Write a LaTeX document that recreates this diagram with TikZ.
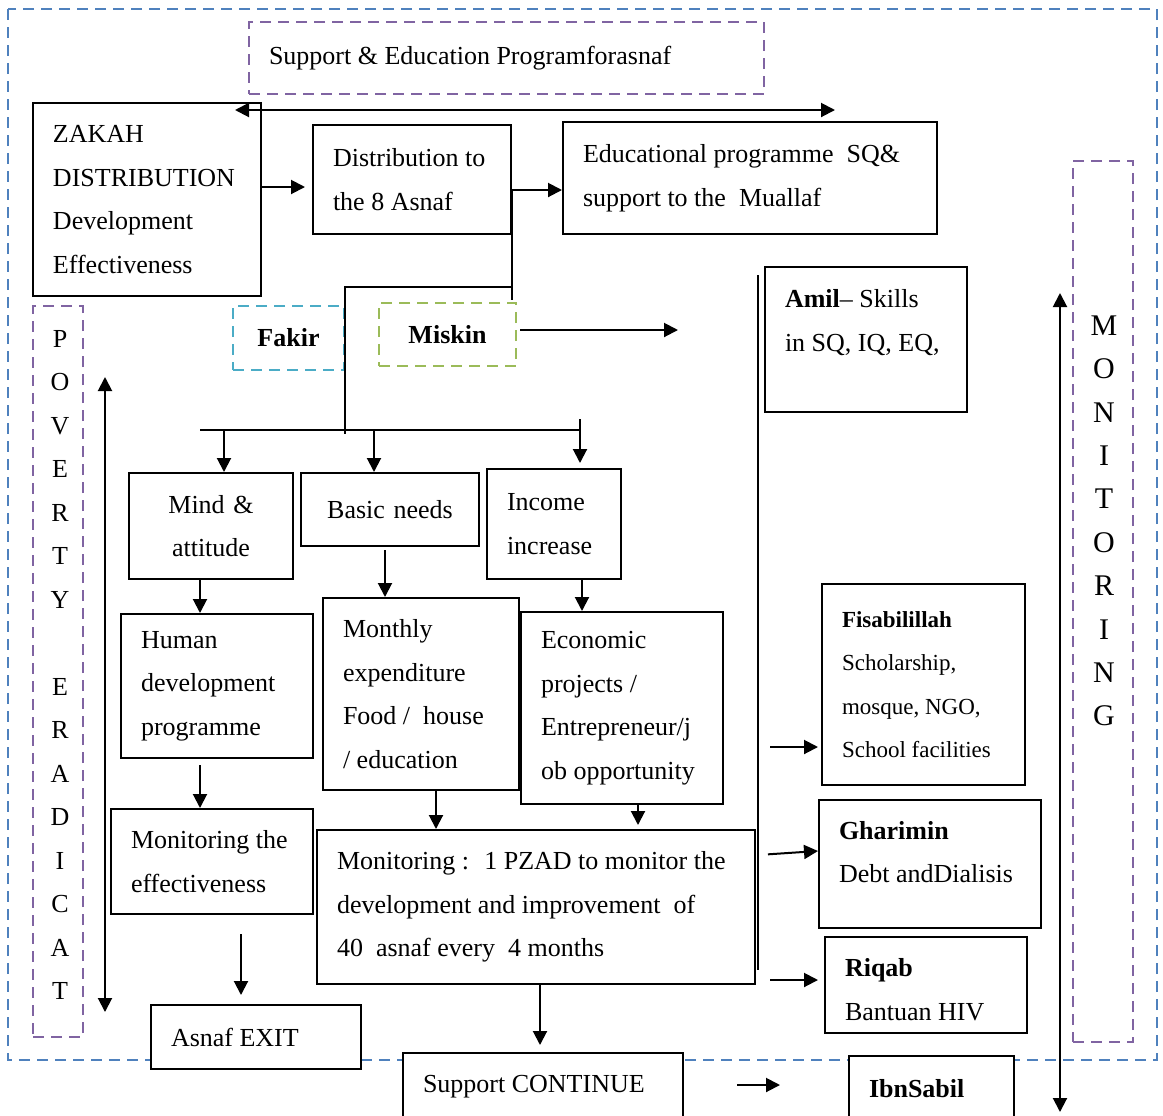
\documentclass[tikz,border=0pt]{standalone}
\usepackage{fontspec}
\setmainfont{Liberation Serif}
\usetikzlibrary{arrows.meta}
\tikzset{>={Triangle[length=7pt,width=7pt]}}
\definecolor{frameblue}{RGB}{79,129,189}
\definecolor{dashpurple}{RGB}{128,100,162}
\definecolor{dashcyan}{RGB}{75,172,198}
\definecolor{dashgreen}{RGB}{155,187,89}
\newcommand\bodysize{\fontsize{13}{21.75}\selectfont}

\begin{document}
\begin{tikzpicture}[x=0.5pt, y=-0.5pt, font=\bodysize,
  box/.style={draw, line width=1pt, fill=white, anchor=north west,
    inner xsep=10pt, inner ysep=0pt, align=flush left},
  dashbox/.style={draw=#1, line width=1pt, dash pattern=on 5.5pt off 3.5pt,
    anchor=north west, inner sep=0pt},
  conn/.style={line width=1pt}]
\useasboundingbox (0,0) rectangle (1163,1115);
\draw[frameblue, line width=1pt, dash pattern=on 5.5pt off 3.5pt] (8,9) rectangle (1157,1060);

% top row
\node[dashbox=dashpurple, minimum width=257.5pt, minimum height=36pt,
  inner xsep=10pt, text width=237.5pt, align=flush left] (sep) at (248,21) {Support \& Education Programforasnaf};
\node[box, text width=94pt, minimum height=96.5pt] (zakah) at (32,102) {ZAKAH\\DISTRIBUTION\\Development\\Effectiveness};
\node[box, text width=79pt, minimum height=54.5pt] (dist) at (312,124) {Distribution to\\the 8 Asnaf};
\node[box, text width=167pt, minimum height=56pt] (edu) at (562,121) {Educational programme~ SQ\&\\support to the~ Muallaf};

% asnaf groups
\node[dashbox=dashcyan, minimum width=55.5pt, minimum height=32pt, font=\bodysize\bfseries] (fakir) at (232,305) {Fakir};
\node[dashbox=dashgreen, minimum width=68.5pt, minimum height=31.5pt, font=\bodysize\bfseries] (miskin) at (378,302) {Miskin};
\node[box, text width=81pt, minimum height=72.5pt, text depth=41pt] (amil) at (764,266) {\textbf{Amil}-- Skills\\in SQ, IQ, EQ,};

% three branches
\node[box, text width=62pt, minimum height=53pt, align=center] (mind) at (128,472) {Mind \&\\attitude};
\node[box, text width=69pt, minimum height=36.5pt, align=center] (basic) at (300,472) {Basic needs};
\node[box, text width=47pt, minimum height=55pt] (income) at (486,468) {Income\\increase};
\node[box, text width=76pt, minimum height=72pt] (human) at (120,613) {Human\\development\\programme};
\node[box, text width=78pt, minimum height=96pt] (monthly) at (322,597) {Monthly\\expenditure\\Food /~ house\\/ education};
\node[box, text width=81pt, minimum height=96pt] (econ) at (520,611) {Economic\\projects /\\Entrepreneur/j\\ob opportunity};

% right column
\node[box, text width=81.5pt, minimum height=100.5pt, font=\fontsize{11.5}{21.75}\selectfont] (fisab) at (821,583) {\textbf{Fisabilillah}\\Scholarship,\\mosque, NGO,\\School facilities};
\node[box, text width=91pt, minimum height=64pt, text depth=34pt] (ghar) at (818,799) {\textbf{Gharimin}\\Debt andDialisis};
\node[box, text width=81pt, minimum height=48pt, text height=13.75pt] (riqab) at (824,936) {\textbf{Riqab}\\Bantuan HIV};

% monitoring and exit
\node[box, text width=81pt, minimum height=52.5pt] (moneff) at (110,808) {Monitoring the\\effectiveness};
\node[box, text width=199pt, minimum height=77pt] (monbig) at (316,829) {Monitoring :~ 1 PZAD to monitor the\\development and improvement~ of\\40~ asnaf every~ 4 months};
\node[box, text width=85pt, minimum height=32pt] (exit) at (150,1004) {Asnaf EXIT};
\node[box, text width=120pt, minimum height=34pt] (support) at (402,1052) {Support CONTINUE};
\node[box, text width=62.5pt, minimum height=33pt, font=\bodysize\bfseries] (ibn) at (848,1055) {IbnSabil};

% side labels
\node[dashbox=dashpurple, minimum width=25pt, minimum height=365.5pt] (povbox) at (32,305) {};
\node[align=center, inner sep=0pt] (povtext) at (60,665) {P\\O\\V\\E\\R\\T\\Y\\[21.75pt]E\\R\\A\\D\\I\\C\\A\\T};
\node[dashbox=dashpurple, minimum width=30pt, minimum height=440.5pt] (monbox) at (1072,160) {};
\node[align=center, inner sep=0pt, font=\fontsize{15}{21.7}\selectfont] (montext) at (1104,521) {M\\O\\N\\I\\T\\O\\R\\I\\N\\G};

% connectors
\coordinate (topL) at (235,110);
\coordinate (topR) at (835,110);
\draw[conn, <->] (topL) -- (topR);
\draw[conn, ->, shorten >=3.5pt] (zakah.east |- 0,187) -- (dist.west |- 0,187);
\draw[conn, ->] (dist.east |- 0,190) -- (edu.west |- 0,190);
\draw[conn] (dist.east |- 0,190) -- (dist.east |- 0,300);
\draw[conn] (dist.east |- 0,287) -- (fakir.east |- 0,287) -- (fakir.east |- 0,434);
\coordinate (miskinTo) at (678,330);
\draw[conn, ->, shorten <=1.5pt] (miskin.east |- miskinTo) -- (miskinTo);

\coordinate (fanL) at (200,430);
\coordinate (fanR) at (580,430);
\draw[conn] (fanL) -- (fanR);
\draw[conn, ->] (fanL -| 224,0) -- (mind.north -| 224,0);
\draw[conn, ->] (fanL -| 374,0) -- (basic.north -| 374,0);
\draw[conn, ->, shorten >=2.5pt] (fanR |- 0,419) -- (income.north -| fanR);

\draw[conn, ->] (mind.south -| 200,0) -- (human.north -| 200,0);
\draw[conn, ->, shorten <=1.5pt] (basic.south -| 385,0) -- (monthly.north -| 385,0);
\draw[conn, ->] (income.south -| 582,0) -- (econ.north -| 582,0);
\draw[conn, ->, shorten <=3pt] (human.south -| 200,0) -- (moneff.north -| 200,0);
\draw[conn, ->] (monthly.south -| 436,0) -- (monbig.north -| 436,0);
\draw[conn, ->, shorten >=2pt] (econ.south -| 638,0) -- (monbig.north -| 638,0);
\draw[conn, ->, shorten <=9.5pt, shorten >=4.5pt] (moneff.south -| 241,0) -- (exit.north -| 241,0);
\draw[conn, ->, shorten >=3.5pt] (monbig.south -| 540,0) -- (support.north -| 540,0);
\draw[conn, ->, shorten <=26.5pt, shorten >=34pt] (support.east |- 0,1085) -- (ibn.west |- 0,1085);

\coordinate (railT) at (758,275);
\coordinate (railB) at (758,970);
\draw[line width=0.8pt] (railT) -- (railB);
\draw[conn, ->, shorten <=6pt, shorten >=1.5pt] (railT |- 0,747) -- (fisab.west |- 0,747);
\draw[conn, ->, shorten <=5pt] (railT |- 0,855) -- (ghar.west |- 0,851);
\draw[conn, ->, shorten <=6pt, shorten >=3pt] (railT |- 0,980) -- (riqab.west |- 0,980);

\coordinate (povT) at (105,377);
\coordinate (povB) at (105,1012);
\draw[conn, <->] (povT) -- (povB);
\coordinate (monT) at (1060,293);
\coordinate (monB) at (1060,1112);
\draw[conn, <->] (monT) -- (monB);
\end{tikzpicture}
\end{document}
